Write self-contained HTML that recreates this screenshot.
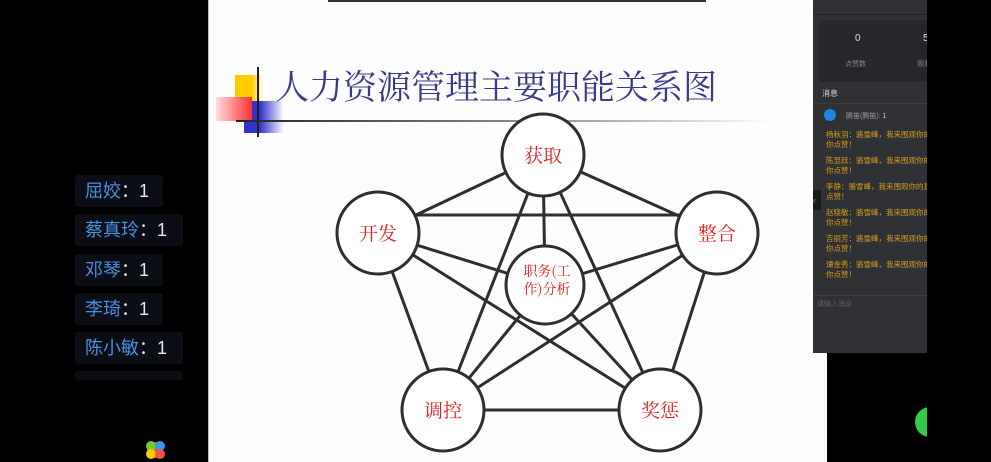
<!DOCTYPE html>
<html><head><meta charset="utf-8"><style>
body{margin:0;width:991px;height:462px;background:#000;position:relative;overflow:hidden;font-family:"Liberation Sans","Noto Sans CJK SC",sans-serif}
.abs{position:absolute}
.tag{position:absolute;left:75px;height:32px;background:#0b0f15;border-radius:3px;font-size:18px;line-height:32px;padding-left:10px;color:#4a90e2;box-sizing:border-box}
.tag span{color:#e8e8e8}
.msg{color:#d99a1a;font-size:7.5px;line-height:10px;margin:0 0 6px 10px;white-space:nowrap}
</style></head><body>
<div class="abs" style="left:208px;top:0;width:618px;height:462px;background:#fdfdfd;border-left:1px solid #bbb"></div>
<div class="abs" style="left:328px;top:0;width:378px;height:2px;background:#333"></div>
<!-- decorations -->
<div class="abs" style="left:235px;top:75px;width:28px;height:26px;background:linear-gradient(90deg,#fc0 60%,#fff)"></div>
<div class="abs" style="left:244px;top:101px;width:40px;height:32px;background:linear-gradient(90deg,#33c 40%,#fff)"></div>
<div class="abs" style="left:216px;top:97px;width:36px;height:24px;background:linear-gradient(90deg,#fdd,#f33)"></div>
<div class="abs" style="left:257px;top:67px;width:2px;height:70px;background:#222"></div>
<div class="abs" style="left:236px;top:120px;width:540px;height:2px;background:linear-gradient(90deg,#222,#999 60%,#fff)"></div>
<div class="abs" style="left:275px;top:60px;font-family:'Noto Serif CJK SC',serif;font-size:34px;color:#3a3a8c;white-space:nowrap">人力资源管理主要职能关系图</div>
<svg class="abs" style="left:0;top:0" width="991" height="462">
<g stroke="#2e2e2e" stroke-width="3">
<line x1="543" y1="155" x2="378" y2="233"/><line x1="543" y1="155" x2="717" y2="233"/>
<line x1="543" y1="155" x2="443" y2="410"/><line x1="543" y1="155" x2="660" y2="410"/>
<line x1="543" y1="155" x2="545" y2="285"/>
<line x1="400" y1="215" x2="700" y2="215"/>
<line x1="378" y1="233" x2="443" y2="410"/><line x1="378" y1="233" x2="660" y2="410"/>
<line x1="378" y1="233" x2="545" y2="285"/>
<line x1="717" y1="233" x2="443" y2="410"/><line x1="717" y1="233" x2="660" y2="410"/>
<line x1="717" y1="233" x2="545" y2="285"/>
<line x1="443" y1="410" x2="660" y2="410"/>
<line x1="545" y1="285" x2="443" y2="410"/><line x1="545" y1="285" x2="660" y2="410"/>
</g>
<g fill="#fff" stroke="#2e2e2e" stroke-width="3">
<circle cx="543" cy="155" r="41"/><circle cx="378" cy="233" r="41"/><circle cx="717" cy="233" r="41"/>
<circle cx="443" cy="410" r="41"/><circle cx="660" cy="410" r="41"/><circle cx="545" cy="285" r="39"/>
</g>
<g fill="#e02020" font-family="'Noto Serif CJK SC',serif" font-size="19" text-anchor="middle">
<text x="543" y="162">获取</text><text x="378" y="240">开发</text><text x="717" y="240">整合</text>
<text x="443" y="417">调控</text><text x="660" y="417">奖惩</text>
<text x="547" y="276" font-size="14">职务(工</text><text x="547" y="294" font-size="14">作)分析</text>
</g>
<circle cx="155" cy="450" r="8" fill="#e44"/><circle cx="151" cy="446" r="5" fill="#7c2"/><circle cx="160" cy="446" r="5" fill="#39e"/><circle cx="151" cy="454" r="5" fill="#fc0"/><circle cx="160" cy="454" r="5" fill="#e54"/>
<circle cx="930" cy="422" r="15" fill="#3c4"/>
</svg>
<div class="abs" style="left:927px;top:390px;width:64px;height:72px;background:#000"></div>
<div class="tag" style="top:175px;width:88px">屈姣<span>：1</span></div>
<div class="tag" style="top:214px;width:108px">蔡真玲<span>：1</span></div>
<div class="tag" style="top:254px;width:88px">邓琴<span>：1</span></div>
<div class="tag" style="top:293px;width:88px">李琦<span>：1</span></div>
<div class="tag" style="top:332px;width:108px">陈小敏<span>：1</span></div>
<div class="tag" style="top:371px;width:108px;height:9px"></div>
<!-- right panel -->
<div class="abs" style="left:813px;top:0;width:114px;height:353px;background:#2f3134;overflow:hidden">
<div style="position:absolute;left:0;top:14px;width:114px;height:1px;background:#222"></div>
<div style="position:absolute;left:6px;top:20px;width:120px;height:62px;background:#25272a;border-radius:4px">
<div style="position:absolute;left:36px;top:13px;color:#ddd;font-size:10px">0</div>
<div style="position:absolute;left:26px;top:39px;color:#888;font-size:7px">点赞数</div>
<div style="position:absolute;left:104px;top:13px;color:#ddd;font-size:10px">5</div>
<div style="position:absolute;left:98px;top:39px;color:#888;font-size:7px">观看</div>
</div>
<div style="position:absolute;left:9px;top:88px;color:#ddd;font-size:8px">消息</div>
<div style="position:absolute;left:0;top:103px;width:114px;height:1px;background:#3c3e42"></div>
<div style="position:absolute;left:11px;top:109px;width:12px;height:12px;border-radius:50%;background:#1e88e5"></div>
<div style="position:absolute;left:33px;top:111px;color:#999;font-size:7px">腾笛(腾笛): <span style="color:#ccc">1</span></div>
<div style="position:absolute;left:3px;top:130px;width:120px">
<div class="msg">杨秋羽：骆雪峰，我来围观你的<br>你点赞！</div>
<div class="msg">陈显跃：骆雪峰，我来围观你的<br>你点赞！</div>
<div class="msg">李静：骆雪峰，我来围观你的直<br>点赞！</div>
<div class="msg">赵晓敏：骆雪峰，我来围观你的<br>你点赞！</div>
<div class="msg">吉丽芳：骆雪峰，我来围观你的<br>你点赞！</div>
<div class="msg">谭金秀：骆雪峰，我来围观你的<br>你点赞！</div>
</div>
<div style="position:absolute;left:0;top:295px;width:114px;height:1px;background:#3c3e42"></div>
<div style="position:absolute;left:4px;top:299px;color:#666;font-size:7px">请输入消息</div>
</div>
<div class="abs" style="left:813px;top:190px;width:8px;height:20px;background:#1a1a1a;color:#888;font-size:9px;line-height:20px">‹</div>
</body></html>
